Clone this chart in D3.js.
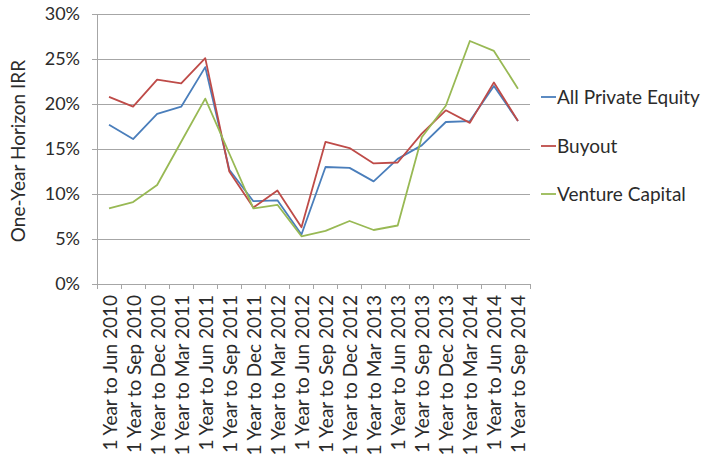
<html>
<head>
  <script src="https://d3js.org/d3.v7.min.js"></script>
  <style>
    body { margin: 0; background: #fff; }
  </style>
</head>
<body>
<script>

let categories = ["1 Year to Jun 2010", "1 Year to Sep 2010", "1 Year to Dec 2010", "1 Year to Mar 2011",
  "1 Year to Jun 2011", "1 Year to Sep 2011", "1 Year to Dec 2011", "1 Year to Mar 2012",
  "1 Year to Jun 2012", "1 Year to Sep 2012", "1 Year to Dec 2012", "1 Year to Mar 2013",
  "1 Year to Jun 2013", "1 Year to Sep 2013", "1 Year to Dec 2013", "1 Year to Mar 2014",
  "1 Year to Jun 2014", "1 Year to Sep 2014"];

let allPE = [17.7, 16.1, 18.9, 19.7, 24.1, 12.7, 9.2, 9.3, 5.5, 13.0, 12.9, 11.4, 13.9, 15.4, 18.0, 18.1, 22.0, 18.1];
let buyout = [20.8, 19.7, 22.7, 22.3, 25.1, 12.5, 8.5, 10.4, 6.3, 15.8, 15.1, 13.4, 13.5, 16.7, 19.3, 17.9, 22.4, 18.1];
let venture = [8.4, 9.1, 11.0, 15.8, 20.6, 14.5, 8.4, 8.8, 5.3, 5.9, 7.0, 6.0, 6.5, 16.3, 19.8, 27.0, 25.9, 21.7];

let seriesNames = ["All Private Equity", "Buyout", "Venture Capital"];
let seriesColors = ["#4a7ebb", "#be4b48", "#98b954"];
let yTicks = [0, 5, 10, 15, 20, 25, 30];

let series = [allPE, buyout, venture];

let canvasW = 715;
let canvasH = 462;
let plotL = 97, plotR = 530, plotT = 14, plotB = 284;
let fontFam = "Lato, 'DejaVu Sans', sans-serif";
let textCol = "#2b2b2b";

let svg = d3.select("body").append("svg")
  .attr("width", canvasW)
  .attr("height", canvasH)
  .style("background-color", "#fff");

let x = d3.scaleBand().domain(categories).range([plotL, plotR]).padding(0);
let y = d3.scaleLinear().domain([0, 30]).range([plotB, plotT]);

// gridlines
svg.append("g").selectAll("line")
  .data(yTicks)
  .enter()
  .append("line")
  .attr("x1", plotL - 5)
  .attr("x2", plotR)
  .attr("y1", d => y(d))
  .attr("y2", d => y(d))
  .attr("stroke", "#a6a6a6")
  .attr("stroke-width", 1)
  .attr("shape-rendering", "crispEdges");

// y axis
let yAxis = svg.append("g")
  .attr("transform", `translate(${plotL},0)`)
  .call(d3.axisLeft(y).tickValues(yTicks).tickSize(5).tickFormat(d => d + "%"));
yAxis.select(".domain").attr("stroke", "#a6a6a6");
yAxis.selectAll(".tick line").attr("stroke", "#a6a6a6");
yAxis.selectAll("text")
  .attr("font-family", fontFam)
  .attr("font-size", "18px")
  .attr("fill", textCol)
  .attr("x", -17);

// x axis: ticks on band boundaries
let xAxis = svg.append("g");
xAxis.append("line")
  .attr("x1", plotL).attr("x2", plotR)
  .attr("y1", plotB).attr("y2", plotB)
  .attr("stroke", "#a6a6a6")
  .attr("shape-rendering", "crispEdges");
xAxis.selectAll(".bt")
  .data(categories.concat(["end"]))
  .enter()
  .append("line")
  .attr("x1", (d, i) => i < categories.length ? x(d) : plotR)
  .attr("x2", (d, i) => i < categories.length ? x(d) : plotR)
  .attr("y1", plotB)
  .attr("y2", plotB + 5)
  .attr("stroke", "#a6a6a6")
  .attr("shape-rendering", "crispEdges");
xAxis.selectAll("text")
  .data(categories)
  .enter()
  .append("text")
  .attr("transform", d => `translate(${x(d) + x.bandwidth() / 2 + 7.5},${plotB + 11}) rotate(-90)`)
  .attr("text-anchor", "end")
  .attr("font-family", fontFam)
  .attr("font-size", "19px")
  .attr("fill", textCol)
  .text(d => d);

// y axis title
svg.append("text")
  .attr("transform", `translate(25,151) rotate(-90)`)
  .attr("text-anchor", "middle")
  .attr("font-family", fontFam)
  .attr("font-size", "19px")
  .attr("fill", textCol)
  .text("One-Year Horizon IRR");

// lines
let line = d3.line()
  .x((d, i) => x(categories[i]) + x.bandwidth() / 2)
  .y(d => y(d));

svg.append("g").selectAll("path")
  .data(series)
  .enter()
  .append("path")
  .attr("d", d => line(d))
  .attr("fill", "none")
  .attr("stroke", (d, i) => seriesColors[i])
  .attr("stroke-width", 1.8)
  .attr("stroke-linejoin", "round");

// legend
let legendY = [97, 146, 194];
let legend = svg.append("g").selectAll("g")
  .data(seriesNames)
  .enter()
  .append("g")
  .attr("transform", (d, i) => `translate(541,${legendY[i]})`);
legend.append("line")
  .attr("x1", 0).attr("x2", 15)
  .attr("y1", 0).attr("y2", 0)
  .attr("stroke", (d, i) => seriesColors[i])
  .attr("stroke-width", 1.8);
legend.append("text")
  .attr("x", 16)
  .attr("y", 7)
  .attr("font-family", fontFam)
  .attr("font-size", "19px")
  .attr("fill", textCol)
  .text(d => d);

</script>
</body>
</html>
